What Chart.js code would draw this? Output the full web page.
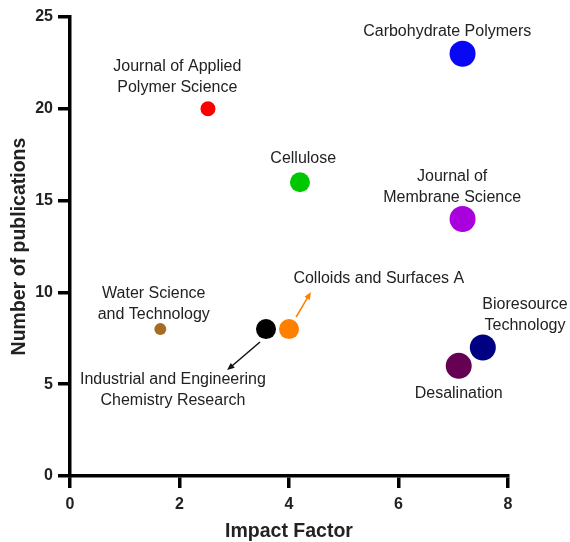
<!DOCTYPE html>
<html>
<head>
<meta charset="utf-8">
<script src="https://cdn.jsdelivr.net/npm/chart.js@4"></script>
<style>
  body { margin: 0; background: #fff; }
  #wrap { width: 570px; height: 542px; }
</style>
</head>
<body>
<div id="wrap"><canvas id="chart1"></canvas></div>
<script>
// data dari gambar
const journals = ['Carbohydrate Polymers', 'Journal of Applied Polymer Science', 'Cellulose',
  'Journal of Membrane Science', 'Water Science and Technology',
  'Industrial and Engineering Chemistry Research', 'Colloids and Surfaces A',
  'Bioresource Technology', 'Desalination'];
const impactFactor = [7.17, 2.52, 4.2, 7.17, 1.65, 3.58, 4.0, 7.54, 7.1];
const publications = [23, 20, 16, 14, 8, 8, 8, 7, 6];
const pointColors = ['rgb(8,8,245)', 'rgb(255,0,0)', 'rgb(0,200,0)', 'rgb(170,0,222)',
  'rgb(166,108,36)', 'rgb(0,0,0)', 'rgb(255,128,0)', 'rgb(0,0,130)', 'rgb(102,0,82)'];
const pointSizes = [13, 7.5, 10, 13, 6, 10, 10, 13, 13];

const xTicks = [0, 2, 4, 6, 8];
const yTicks = [0, 5, 10, 15, 20, 25];

// teks label: baris, posisi (satuan data)
const labelLines = [
  ['Carbohydrate Polymers'],
  ['Journal of Applied', 'Polymer Science'],
  ['Cellulose'],
  ['Journal of', 'Membrane Science'],
  ['Water Science', 'and Technology'],
  ['Industrial and Engineering', 'Chemistry Research'],
  ['Colloids and Surfaces A'],
  ['Bioresource', 'Technology'],
  ['Desalination']
];
const labelX = [6.89, 1.96, 4.26, 6.98, 1.53, 1.88, 5.64, 8.31, 7.1];
const labelY = [24.18, 22.28, 17.27, 16.29, 9.91, 5.23, 10.73, 9.31, 4.47];

// panah: dari -> ke
const arrowFrom = [[3.47, 7.30], [4.13, 8.66]];
const arrowTo = [[2.87, 5.77], [4.40, 10.02]];
const arrowColors = ['#111', 'rgb(255,128,0)'];

const annotPlugin = {
  id: 'annot',
  afterDatasetsDraw(chart) {
    const ctx = chart.ctx;
    const sx = chart.scales.x, sy = chart.scales.y;
    ctx.save();
    ctx.fillStyle = '#222';
    ctx.font = '16px "Liberation Sans", Arial, sans-serif';
    ctx.textAlign = 'center';
    ctx.textBaseline = 'middle';
    labelLines.forEach((lines, i) => {
      const px = sx.getPixelForValue(labelX[i]);
      const py = sy.getPixelForValue(labelY[i]);
      lines.forEach((t, j) => ctx.fillText(t, px, py + j * 21));
    });
    arrowFrom.forEach((f, i) => {
      const x1 = sx.getPixelForValue(f[0]), y1 = sy.getPixelForValue(f[1]);
      const x2 = sx.getPixelForValue(arrowTo[i][0]), y2 = sy.getPixelForValue(arrowTo[i][1]);
      const a = Math.atan2(y2 - y1, x2 - x1);
      ctx.strokeStyle = arrowColors[i];
      ctx.fillStyle = arrowColors[i];
      ctx.lineWidth = 1.5;
      ctx.beginPath();
      ctx.moveTo(x1, y1);
      ctx.lineTo(x2 - 4 * Math.cos(a), y2 - 4 * Math.sin(a));
      ctx.stroke();
      ctx.beginPath();
      ctx.moveTo(x2, y2);
      ctx.lineTo(x2 - 8 * Math.cos(a - 0.4), y2 - 8 * Math.sin(a - 0.4));
      ctx.lineTo(x2 - 8 * Math.cos(a + 0.4), y2 - 8 * Math.sin(a + 0.4));
      ctx.closePath();
      ctx.fill();
    });
    ctx.restore();
  }
};

const ctx = document.getElementById('chart1').getContext('2d');
window.chart = new Chart(ctx, {
  type: 'scatter',
  data: {
    datasets: [{
      label: 'Jurnal',
      data: impactFactor.map((v, i) => ({ x: v, y: publications[i] })),
      backgroundColor: pointColors,
      borderWidth: 0,
      pointRadius: pointSizes,
      pointHoverRadius: pointSizes
    }]
  },
  options: {
    responsive: true,
    maintainAspectRatio: false,
    animation: false,
    layout: { padding: { left: 0, right: 62, top: 17, bottom: 0 } },
    plugins: { legend: { display: false }, tooltip: { enabled: false } },
    scales: {
      x: {
        type: 'linear', min: 0, max: 8,
        afterFit: s => { s.height = 66; },
        afterBuildTicks: s => { s.ticks = xTicks.map(v => ({ value: v })); },
        grid: { drawOnChartArea: false, drawTicks: true, tickLength: 12, lineWidth: 3.5, color: '#000' },
        border: { width: 3.5, color: '#000' },
        ticks: { color: '#222', padding: 7, font: { family: '"Liberation Sans", Arial', size: 16, weight: 'bold' } },
        title: { display: true, text: 'Impact Factor', color: '#222', padding: { top: 0, bottom: -1 },
          font: { family: '"Liberation Sans", Arial', size: 19.5, weight: 'bold' } }
      },
      y: {
        type: 'linear', min: 0, max: 25,
        afterFit: s => { s.width = 70; },
        afterBuildTicks: s => { s.ticks = yTicks.map(v => ({ value: v })); },
        grid: { drawOnChartArea: false, drawTicks: true, tickLength: 12, lineWidth: 3.5, color: '#000' },
        border: { width: 3.5, color: '#000' },
        ticks: { color: '#222', padding: 5, font: { family: '"Liberation Sans", Arial', size: 16, weight: 'bold' } },
        title: { display: true, text: 'Number of publications', color: '#222', padding: { top: 8, bottom: 0 },
          font: { family: '"Liberation Sans", Arial', size: 19.5, weight: 'bold' } }
      }
    }
  },
  plugins: [annotPlugin]
});
</script>
</body>
</html>
